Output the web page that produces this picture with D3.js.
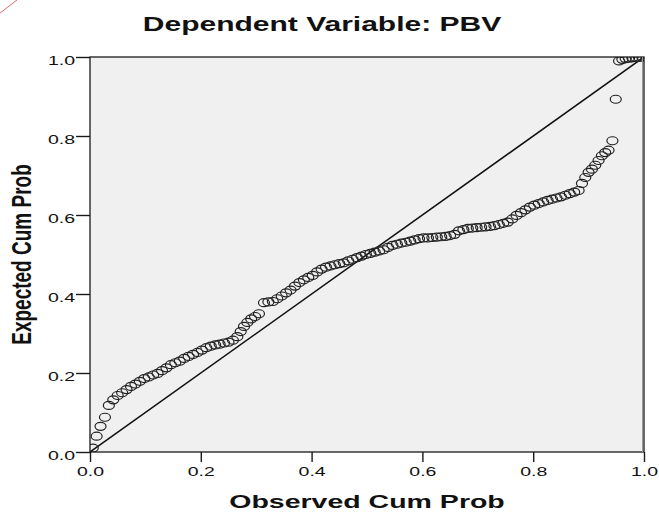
<!DOCTYPE html>
<html>
<head>
<meta charset="utf-8">
<script src="https://cdn.jsdelivr.net/npm/d3@7"></script>
<style>
  html, body { margin: 0; padding: 0; background: #ffffff; }
  svg { display: block; }
  text { font-family: "Liberation Sans", Arial, sans-serif; fill: #111; }
</style>
</head>
<body>
<svg id="chart" width="659" height="514"></svg>
<script>
// ---- data ----
const title = "Dependent Variable: PBV";
const xLabel = "Observed Cum Prob";
const yLabel = "Expected Cum Prob";
const tickValues = [0.0, 0.2, 0.4, 0.6, 0.8, 1.0];

const observed = [
  0.005, 0.012, 0.019, 0.027, 0.034, 0.042, 0.050, 0.058, 0.066, 0.074,
  0.082, 0.090, 0.098, 0.106, 0.114, 0.122, 0.130, 0.138, 0.146, 0.154,
  0.162, 0.170, 0.178, 0.186, 0.194, 0.202, 0.210, 0.218, 0.226, 0.234,
  0.242, 0.250, 0.258, 0.266, 0.272, 0.278, 0.284, 0.291, 0.298, 0.305,
  0.314, 0.322, 0.330, 0.338, 0.346, 0.354, 0.362, 0.370, 0.378, 0.386,
  0.394, 0.402, 0.410, 0.418, 0.426, 0.434, 0.442, 0.450, 0.458, 0.466,
  0.474, 0.482, 0.490, 0.498, 0.506, 0.514, 0.522, 0.530, 0.538, 0.546,
  0.554, 0.562, 0.570, 0.578, 0.586, 0.594, 0.602, 0.610, 0.618, 0.626,
  0.634, 0.642, 0.650, 0.658, 0.666, 0.674, 0.682, 0.690, 0.698, 0.706,
  0.714, 0.722, 0.730, 0.738, 0.746, 0.754, 0.762, 0.770, 0.778, 0.786,
  0.794, 0.802, 0.810, 0.818, 0.826, 0.834, 0.842, 0.850, 0.858, 0.866,
  0.874, 0.882, 0.888, 0.894, 0.900, 0.906, 0.912, 0.918, 0.924, 0.930,
  0.936, 0.943, 0.949, 0.955, 0.961, 0.967, 0.973, 0.979, 0.985, 0.991,
  0.997
];
const expected = [
  0.010, 0.040, 0.065, 0.088, 0.118, 0.132, 0.143, 0.150, 0.158, 0.166,
  0.172, 0.179, 0.186, 0.190, 0.195, 0.199, 0.206, 0.213, 0.221, 0.226,
  0.230, 0.237, 0.242, 0.247, 0.252, 0.258, 0.264, 0.268, 0.271, 0.273,
  0.276, 0.278, 0.283, 0.292, 0.305, 0.318, 0.328, 0.337, 0.343, 0.350,
  0.378, 0.380, 0.381, 0.388, 0.395, 0.403, 0.410, 0.420, 0.429, 0.436,
  0.442, 0.447, 0.456, 0.463, 0.468, 0.471, 0.474, 0.477, 0.479, 0.484,
  0.488, 0.492, 0.496, 0.500, 0.503, 0.506, 0.509, 0.512, 0.518, 0.523,
  0.526, 0.529, 0.531, 0.534, 0.537, 0.540, 0.542, 0.542, 0.543, 0.544,
  0.545, 0.546, 0.548, 0.551, 0.560, 0.563, 0.566, 0.567, 0.568, 0.569,
  0.570, 0.571, 0.573, 0.576, 0.579, 0.582, 0.590, 0.599, 0.606, 0.613,
  0.620, 0.625, 0.629, 0.633, 0.637, 0.640, 0.643, 0.646, 0.650, 0.654,
  0.658, 0.662, 0.680, 0.695, 0.708, 0.716, 0.726, 0.738, 0.750, 0.758,
  0.764, 0.788, 0.893, 0.990, 0.994, 0.996, 0.997, 0.998, 0.999, 0.999,
  1.000
];
const diagonal = [[0, 0], [1, 1]];

// ---- layout ----
const plotL = 90, plotR = 644, plotT = 57, plotB = 452;
const SX = 1.5; // horizontal stretch of the original picture

const svg = d3.select("#chart");

const x = d3.scaleLinear().domain([0, 1]).range([plotL, plotR]);
const y = d3.scaleLinear().domain([0, 1]).range([plotB, plotT]);

// stray red stroke in the top-left corner
svg.append("line")
  .attr("x1", 0).attr("y1", 13).attr("x2", 17).attr("y2", 0)
  .attr("stroke", "#e46a6a").attr("stroke-width", 1);

// plot background
svg.append("rect")
  .attr("x", plotL).attr("y", plotT)
  .attr("width", plotR - plotL).attr("height", plotB - plotT)
  .attr("fill", "#f0f0f0");

// clip
svg.append("clipPath").attr("id", "clip")
  .append("rect").attr("x", plotL).attr("y", plotT)
  .attr("width", plotR - plotL).attr("height", plotB - plotT);

const plot = svg.append("g").attr("clip-path", "url(#clip)");

// diagonal reference line
plot.append("path")
  .datum(diagonal)
  .attr("d", d3.line().x(d => x(d[0])).y(d => y(d[1])))
  .attr("fill", "none")
  .attr("stroke", "#111")
  .attr("stroke-width", 1.5);

// points
const pts = observed.map((o, i) => ({ o, e: expected[i] }));
plot.selectAll("ellipse.pt")
  .data(pts)
  .join("ellipse")
  .attr("class", "pt")
  .attr("cx", d => x(d.o))
  .attr("cy", d => y(d.e))
  .attr("rx", 5.5)
  .attr("ry", 4)
  .attr("fill", "none")
  .attr("stroke", "#222")
  .attr("stroke-width", 1.2);

// frame
svg.append("rect")
  .attr("x", plotL).attr("y", plotT)
  .attr("width", plotR - plotL).attr("height", plotB - plotT)
  .attr("fill", "none")
  .attr("stroke", "#1a1a1a")
  .attr("stroke-width", 1.3);
svg.append("line")
  .attr("x1", plotR - 1.5).attr("x2", plotR - 1.5)
  .attr("y1", plotT).attr("y2", plotB)
  .attr("stroke", "#9a9a9a").attr("stroke-width", 1);

// axes
const fmt = d3.format(".1f");
const xAxis = svg.append("g")
  .attr("transform", `translate(0,${plotB})`)
  .call(d3.axisBottom(x).tickValues(tickValues).tickFormat(fmt).tickSizeInner(10).tickSizeOuter(0));
const yAxis = svg.append("g")
  .attr("transform", `translate(${plotL},0)`)
  .call(d3.axisLeft(y).tickValues(tickValues).tickFormat(fmt).tickSizeInner(14).tickSizeOuter(0));

[xAxis, yAxis].forEach(a => {
  a.select(".domain").remove();
  a.selectAll(".tick line").attr("stroke", "#1a1a1a").attr("stroke-width", 1.4);
  a.selectAll(".tick text")
    .style("font-family", "'Liberation Sans', Arial, sans-serif")
    .style("font-size", "13px")
    .attr("fill", "#222");
});
xAxis.selectAll(".tick text")
  .attr("y", 15).attr("dy", "0.71em")
  .attr("transform", `scale(${SX},1)`);
yAxis.selectAll(".tick text")
  .attr("x", -15 / SX).attr("dy", "0.6em")
  .attr("transform", `scale(${SX},1)`);

// title
svg.append("text")
  .attr("transform", `translate(322,31) scale(${SX},1)`)
  .attr("text-anchor", "middle")
  .style("font-size", "20px")
  .style("font-weight", "bold")
  .text(title);

// x axis title
svg.append("text")
  .attr("transform", `translate(${(plotL + plotR) / 2},508) scale(${SX},1)`)
  .attr("text-anchor", "middle")
  .style("font-size", "19px")
  .style("font-weight", "bold")
  .text(xLabel);

// y axis title
svg.append("text")
  .attr("transform", `translate(31,${(plotT + plotB) / 2}) scale(${SX},1) rotate(-90)`)
  .attr("text-anchor", "middle")
  .style("font-size", "19px")
  .style("font-weight", "bold")
  .text(yLabel);
</script>
</body>
</html>
